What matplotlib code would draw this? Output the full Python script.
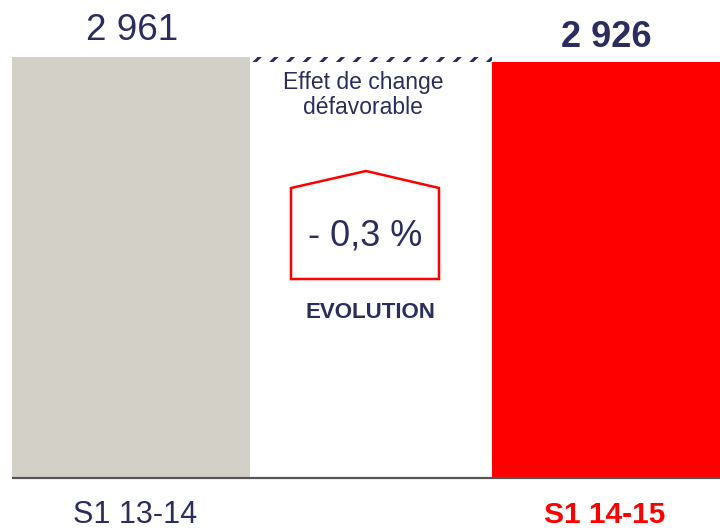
import matplotlib
matplotlib.use("Agg")
import matplotlib.pyplot as plt
from matplotlib.patches import Polygon

plt.rcParams['font.family'] = ['Liberation Sans', 'DejaVu Sans']
plt.rcParams['hatch.linewidth'] = 2.2

categories = ["S1 13-14", "S1 14-15"]
values = [2961, 2926]
value_labels = ["2 961", "2 926"]
effect_label = "Effet de change\ndéfavorable"
evolution_label = "- 0,3 %"
evolution_title = "EVOLUTION"

NAVY = "#2B2D5E"
GREY = "#D3D0C8"
RED = "#FF0000"

W, H = 720, 530
fig = plt.figure(figsize=(W / 100, H / 100), dpi=100)
# axes: left at 12px, 720px wide (3 slots of 240px), bottom at 478px, top at 0px
ax = fig.add_axes([12 / W, 1 - 478 / H, 720 / W, 478 / H])
ymax = values[0] * 478 / 421
ax.set_xlim(0, 3)
ax.set_ylim(0, ymax)
ax.axis('off')

# bars
ax.bar(0, values[0], width=0.992, align='edge', color=GREY, linewidth=0)
ax.bar(2, values[1], width=1, align='edge', color=RED, linewidth=0)
# hatched difference strip
ax.bar(1.0, values[0] - values[1], bottom=values[1], width=1, align='edge',
       color='white', edgecolor=NAVY, hatch='//', linewidth=0)

# baseline
ax.plot([0, 3], [0, 0], color='#555555', lw=1.6, clip_on=False, solid_capstyle='butt')

def py(p):
    """pixel y (from top) -> data y"""
    return (478 - p) * ymax / 478

def px(p):
    return (p - 12) / 240

# value labels
ax.text(px(132), py(40), value_labels[0], ha='center', va='baseline',
        fontsize=26.5, color=NAVY)
ax.text(px(606), py(47), value_labels[1], ha='center', va='baseline',
        fontsize=26, color=NAVY, fontweight='bold')

# category labels
ax.text(px(135), py(523), categories[0], ha='center', va='baseline',
        fontsize=22, color=NAVY, clip_on=False)
ax.text(px(605), py(523), categories[1], ha='center', va='baseline',
        fontsize=21.5, color=RED, fontweight='bold', clip_on=False)

# effect label
ax.text(px(363), py(95), effect_label, ha='center', va='center',
        fontsize=16.5, color=NAVY, linespacing=1.1)

# house shape
house = Polygon([(px(291), py(279)), (px(291), py(188)), (px(366), py(171)),
                 (px(439), py(188)), (px(439), py(279))],
                closed=True, fill=False, edgecolor=RED, lw=1.8, joinstyle='miter')
ax.add_patch(house)
ax.text(px(365), py(245), evolution_label, ha='center', va='baseline',
        fontsize=26, color=NAVY)
ax.text(px(370), py(318), evolution_title, ha='center', va='baseline',
        fontsize=16, color=NAVY, fontweight='bold')

fig.savefig("out.png", dpi=100)
